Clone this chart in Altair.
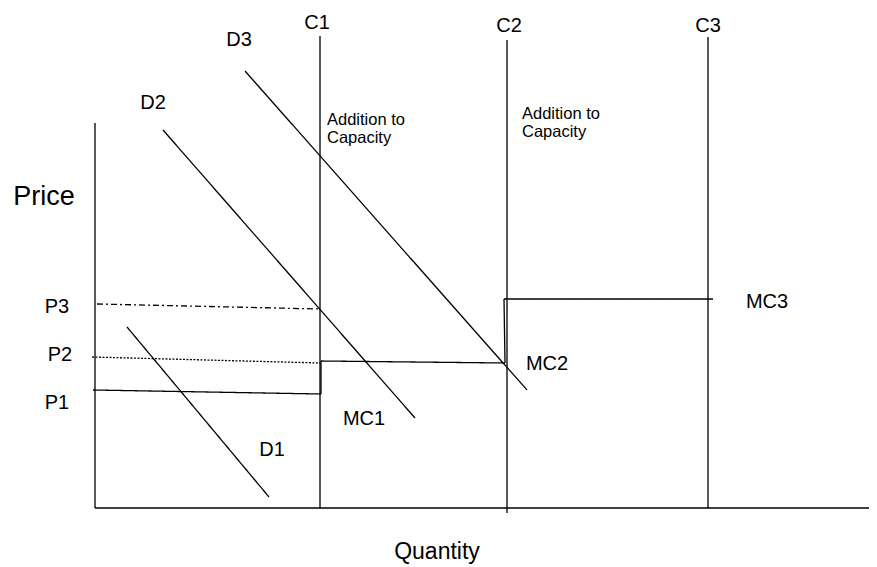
import altair as alt
import pandas as pd

# Line segments (quantity / price units, origin at the axes corner)
seg_name = ["yaxis", "xaxis", "C1", "C2", "C3", "D1", "D2", "D3", "P3", "P2",
            "MC_a", "MC_b", "MC_c", "MC_d", "MC_e"]
seg_q1 = [0, 0, 225, 412, 613, 32, 68, 150, 2, -3, -2, 226, 226, 410, 409]
seg_p1 = [385, 0, 472, 468, 471, 181, 378, 437, 204, 151, 118, 114, 147, 145, 209]
seg_q2 = [0, 774, 225, 412, 613, 174, 320, 432, 225, 225, 226, 226, 410, 409, 618]
seg_p2 = [0, 0, 0, -5, 0, 11, 90, 118, 199, 145, 114, 147, 145, 209, 209]
seg_style = ["solid", "solid", "solid", "solid", "solid", "solid", "solid", "solid",
             "dashdot", "dotted", "solid", "solid", "solid", "solid", "solid"]

# Curve / level labels
lab_text = ["C1", "C2", "C3", "D3", "D2", "D1", "P3", "P2", "P1", "MC1", "MC2", "MC3"]
lab_q = [222, 414, 613, 144, 58, 177, -38, -35, -38, 269, 452, 672]
lab_p = [485, 482, 482, 468, 405, 58, 201, 153, 105, 89, 144, 206]

# Annotations
note_text = ["Addition to", "Capacity", "Addition to", "Capacity"]
note_q = [232, 232, 427, 427]
note_p = [388, 370, 394, 376]

axis_text = ["Price", "Quantity"]
axis_q = [-51, 342]
axis_p = [311, -44]
axis_size = [27, 23]

segs = pd.DataFrame({"name": seg_name, "q1": seg_q1, "p1": seg_p1,
                     "q2": seg_q2, "p2": seg_p2, "style": seg_style})
labs = pd.DataFrame({"text": lab_text, "q": lab_q, "p": lab_p})
notes = pd.DataFrame({"text": note_text, "q": note_q, "p": note_p})
axl = pd.DataFrame({"text": axis_text, "q": axis_q, "p": axis_p, "size": axis_size})

xs = alt.Scale(domain=[-87, 774], nice=False, zero=False)
ys = alt.Scale(domain=[-57, 500], nice=False, zero=False)
X = lambda f: alt.X(f, type="quantitative", scale=xs, axis=None)
Y = lambda f: alt.Y(f, type="quantitative", scale=ys, axis=None)
FONT = "Liberation Sans"

lines = alt.Chart(segs).mark_rule(color="black", strokeWidth=1.3).encode(
    x=X("q1"), y=Y("p1"), x2="q2", y2="p2",
    strokeDash=alt.StrokeDash("style:N", legend=None,
                              scale=alt.Scale(domain=["solid", "dashdot", "dotted"],
                                              range=[[1, 0], [6, 3, 2, 3], [2, 1.5]])),
)

labels = alt.Chart(labs).mark_text(font=FONT, fontSize=20, color="black",
                                   align="center", baseline="middle").encode(
    x=X("q"), y=Y("p"), text="text:N")

annot = alt.Chart(notes).mark_text(font=FONT, fontSize=16.5, color="black",
                                   align="left", baseline="middle").encode(
    x=X("q"), y=Y("p"), text="text:N")

axlab = alt.Chart(axl).mark_text(font=FONT, color="black",
                                 align="center", baseline="middle").encode(
    x=X("q"), y=Y("p"), text="text:N",
    size=alt.Size("size:Q", scale=None, legend=None))

chart = alt.layer(lines, labels, annot, axlab).properties(
    width=861, height=557, padding=0, autosize=alt.AutoSizeParams(type="none"),
    background="white",
).configure_view(stroke=None)

chart.save("out.html", embed_options={"renderer": "svg", "actions": False})
